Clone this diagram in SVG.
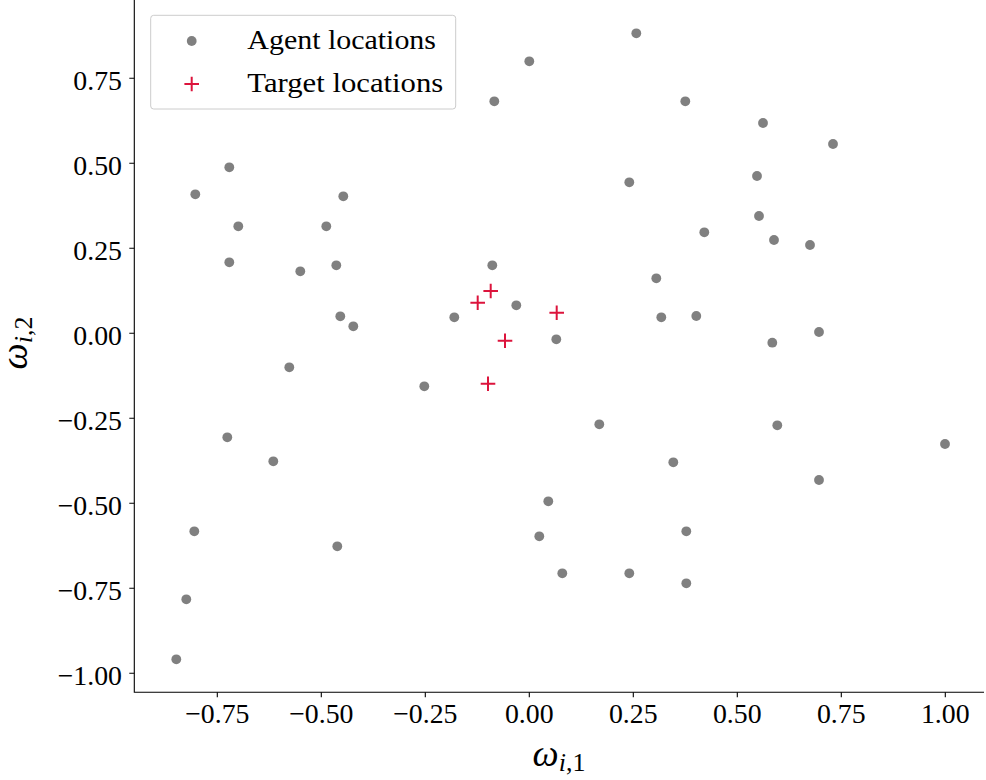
<svg xmlns="http://www.w3.org/2000/svg" xmlns:xlink="http://www.w3.org/1999/xlink" width="986" height="780" viewBox="0 0 986 780">
<style>
.spine{stroke:#000;stroke-width:1.1;fill:none}
.tick{stroke:#000;stroke-width:1.1}
.tl{font-family:"Liberation Serif","Times New Roman",serif;font-size:27.8px;fill:#000}
.lab{font-family:"Liberation Serif","Times New Roman",serif;font-size:37px;fill:#000}
.it{font-style:italic}
.sub{font-size:26px}
.agent{fill:#808080}
.target{stroke:#dc143c;stroke-width:2;fill:none}
.leg{fill:#fff;fill-opacity:0.8;stroke:#cccccc;stroke-width:1}
</style>
<defs>
<path id="plus" d="M-7.3,0H7.3M0,-7.3V7.3"/>
</defs>
<rect width="986" height="780" fill="#fff"/>
<g id="axes">
<path class="spine" d="M134.3,0V692.3H984"/>
</g>
<g id="xticks">
<path class="tick" d="M217.3,692.3v5M321.3,692.3v5M425.3,692.3v5M529.3,692.3v5M633.3,692.3v5M737.3,692.3v5M841.3,692.3v5M945.3,692.3v5"/>
<g class="tl" text-anchor="middle">
<text x="217.3" y="723">−0.75</text>
<text x="321.3" y="723">−0.50</text>
<text x="425.3" y="723">−0.25</text>
<text x="529.3" y="723">0.00</text>
<text x="633.3" y="723">0.25</text>
<text x="737.3" y="723">0.50</text>
<text x="841.3" y="723">0.75</text>
<text x="945.3" y="723">1.00</text>
</g>
</g>
<g id="yticks">
<path class="tick" d="M129.3,78.3h5M129.3,163.3h5M129.3,248.3h5M129.3,333.3h5M129.3,418.3h5M129.3,503.3h5M129.3,588.3h5M129.3,673.3h5"/>
<g class="tl" text-anchor="end">
<text x="122" y="89.8">0.75</text>
<text x="122" y="174.8">0.50</text>
<text x="122" y="259.8">0.25</text>
<text x="122" y="344.8">0.00</text>
<text x="122" y="429.8">−0.25</text>
<text x="122" y="514.8">−0.50</text>
<text x="122" y="599.8">−0.75</text>
<text x="122" y="684.8">−1.00</text>
</g>
</g>
<g id="xlabel">
<text class="lab" x="559" y="766" text-anchor="middle"><tspan class="it">ω</tspan><tspan class="sub it" dy="5">i</tspan><tspan class="sub">,1</tspan></text>
</g>
<g id="ylabel">
<text class="lab" transform="translate(26.7,343) rotate(-90)" x="0" y="0" text-anchor="middle"><tspan class="it">ω</tspan><tspan class="sub it" dy="5">i</tspan><tspan class="sub">,2</tspan></text>
</g>
<g id="agents" class="agent">
<circle cx="229.3" cy="167.3" r="4.9"/>
<circle cx="195.3" cy="194.3" r="4.9"/>
<circle cx="343.3" cy="196.3" r="4.9"/>
<circle cx="238.3" cy="226.3" r="4.9"/>
<circle cx="326.3" cy="226.3" r="4.9"/>
<circle cx="229.3" cy="262.3" r="4.9"/>
<circle cx="300.3" cy="271.3" r="4.9"/>
<circle cx="336.3" cy="265.3" r="4.9"/>
<circle cx="340.3" cy="316.3" r="4.9"/>
<circle cx="353.3" cy="326.3" r="4.9"/>
<circle cx="289.3" cy="367.3" r="4.9"/>
<circle cx="424.3" cy="386.3" r="4.9"/>
<circle cx="227.3" cy="437.3" r="4.9"/>
<circle cx="273.3" cy="461.3" r="4.9"/>
<circle cx="194.3" cy="531.3" r="4.9"/>
<circle cx="337.3" cy="546.3" r="4.9"/>
<circle cx="186.3" cy="599.3" r="4.9"/>
<circle cx="176.3" cy="659.3" r="4.9"/>
<circle cx="636.3" cy="33.3" r="4.9"/>
<circle cx="529.3" cy="61.3" r="4.9"/>
<circle cx="494.3" cy="101.3" r="4.9"/>
<circle cx="685.3" cy="101.3" r="4.9"/>
<circle cx="629.3" cy="182.3" r="4.9"/>
<circle cx="704.3" cy="232.3" r="4.9"/>
<circle cx="492.3" cy="265.3" r="4.9"/>
<circle cx="656.3" cy="278.3" r="4.9"/>
<circle cx="516.3" cy="305.3" r="4.9"/>
<circle cx="454.3" cy="317.3" r="4.9"/>
<circle cx="661.3" cy="317.3" r="4.9"/>
<circle cx="696.3" cy="316" r="4.9"/>
<circle cx="556.3" cy="339.3" r="4.9"/>
<circle cx="599.3" cy="424.3" r="4.9"/>
<circle cx="673.3" cy="462.3" r="4.9"/>
<circle cx="548.3" cy="501.3" r="4.9"/>
<circle cx="539.3" cy="536.3" r="4.9"/>
<circle cx="686.3" cy="531.3" r="4.9"/>
<circle cx="562.3" cy="573.3" r="4.9"/>
<circle cx="629.3" cy="573.3" r="4.9"/>
<circle cx="686.3" cy="583.3" r="4.9"/>
<circle cx="763" cy="123" r="4.9"/>
<circle cx="833" cy="144" r="4.9"/>
<circle cx="757" cy="176" r="4.9"/>
<circle cx="759" cy="216" r="4.9"/>
<circle cx="774" cy="240" r="4.9"/>
<circle cx="810" cy="245" r="4.9"/>
<circle cx="819" cy="332" r="4.9"/>
<circle cx="772.3" cy="342.7" r="4.9"/>
<circle cx="777.3" cy="425.3" r="4.9"/>
<circle cx="945" cy="444" r="4.9"/>
<circle cx="819" cy="480" r="4.9"/>
</g>
<g id="targets" class="target">
<use xlink:href="#plus" x="490.7" y="291"/>
<use xlink:href="#plus" x="477.7" y="302.7"/>
<use xlink:href="#plus" x="556.7" y="312.7"/>
<use xlink:href="#plus" x="505" y="340.7"/>
<use xlink:href="#plus" x="488" y="383.7"/>
</g>
<g id="legend">
<rect class="leg" x="150.7" y="15.3" width="305" height="93.7" rx="3"/>
<circle class="agent" cx="191.7" cy="41" r="4.9"/>
<use class="target" xlink:href="#plus" x="191.7" y="84"/>
<text class="tl" x="247.3" y="49.3" textLength="188.7" lengthAdjust="spacingAndGlyphs">Agent locations</text>
<text class="tl" x="247.3" y="91.7" textLength="196" lengthAdjust="spacingAndGlyphs">Target locations</text>
</g>
</svg>
